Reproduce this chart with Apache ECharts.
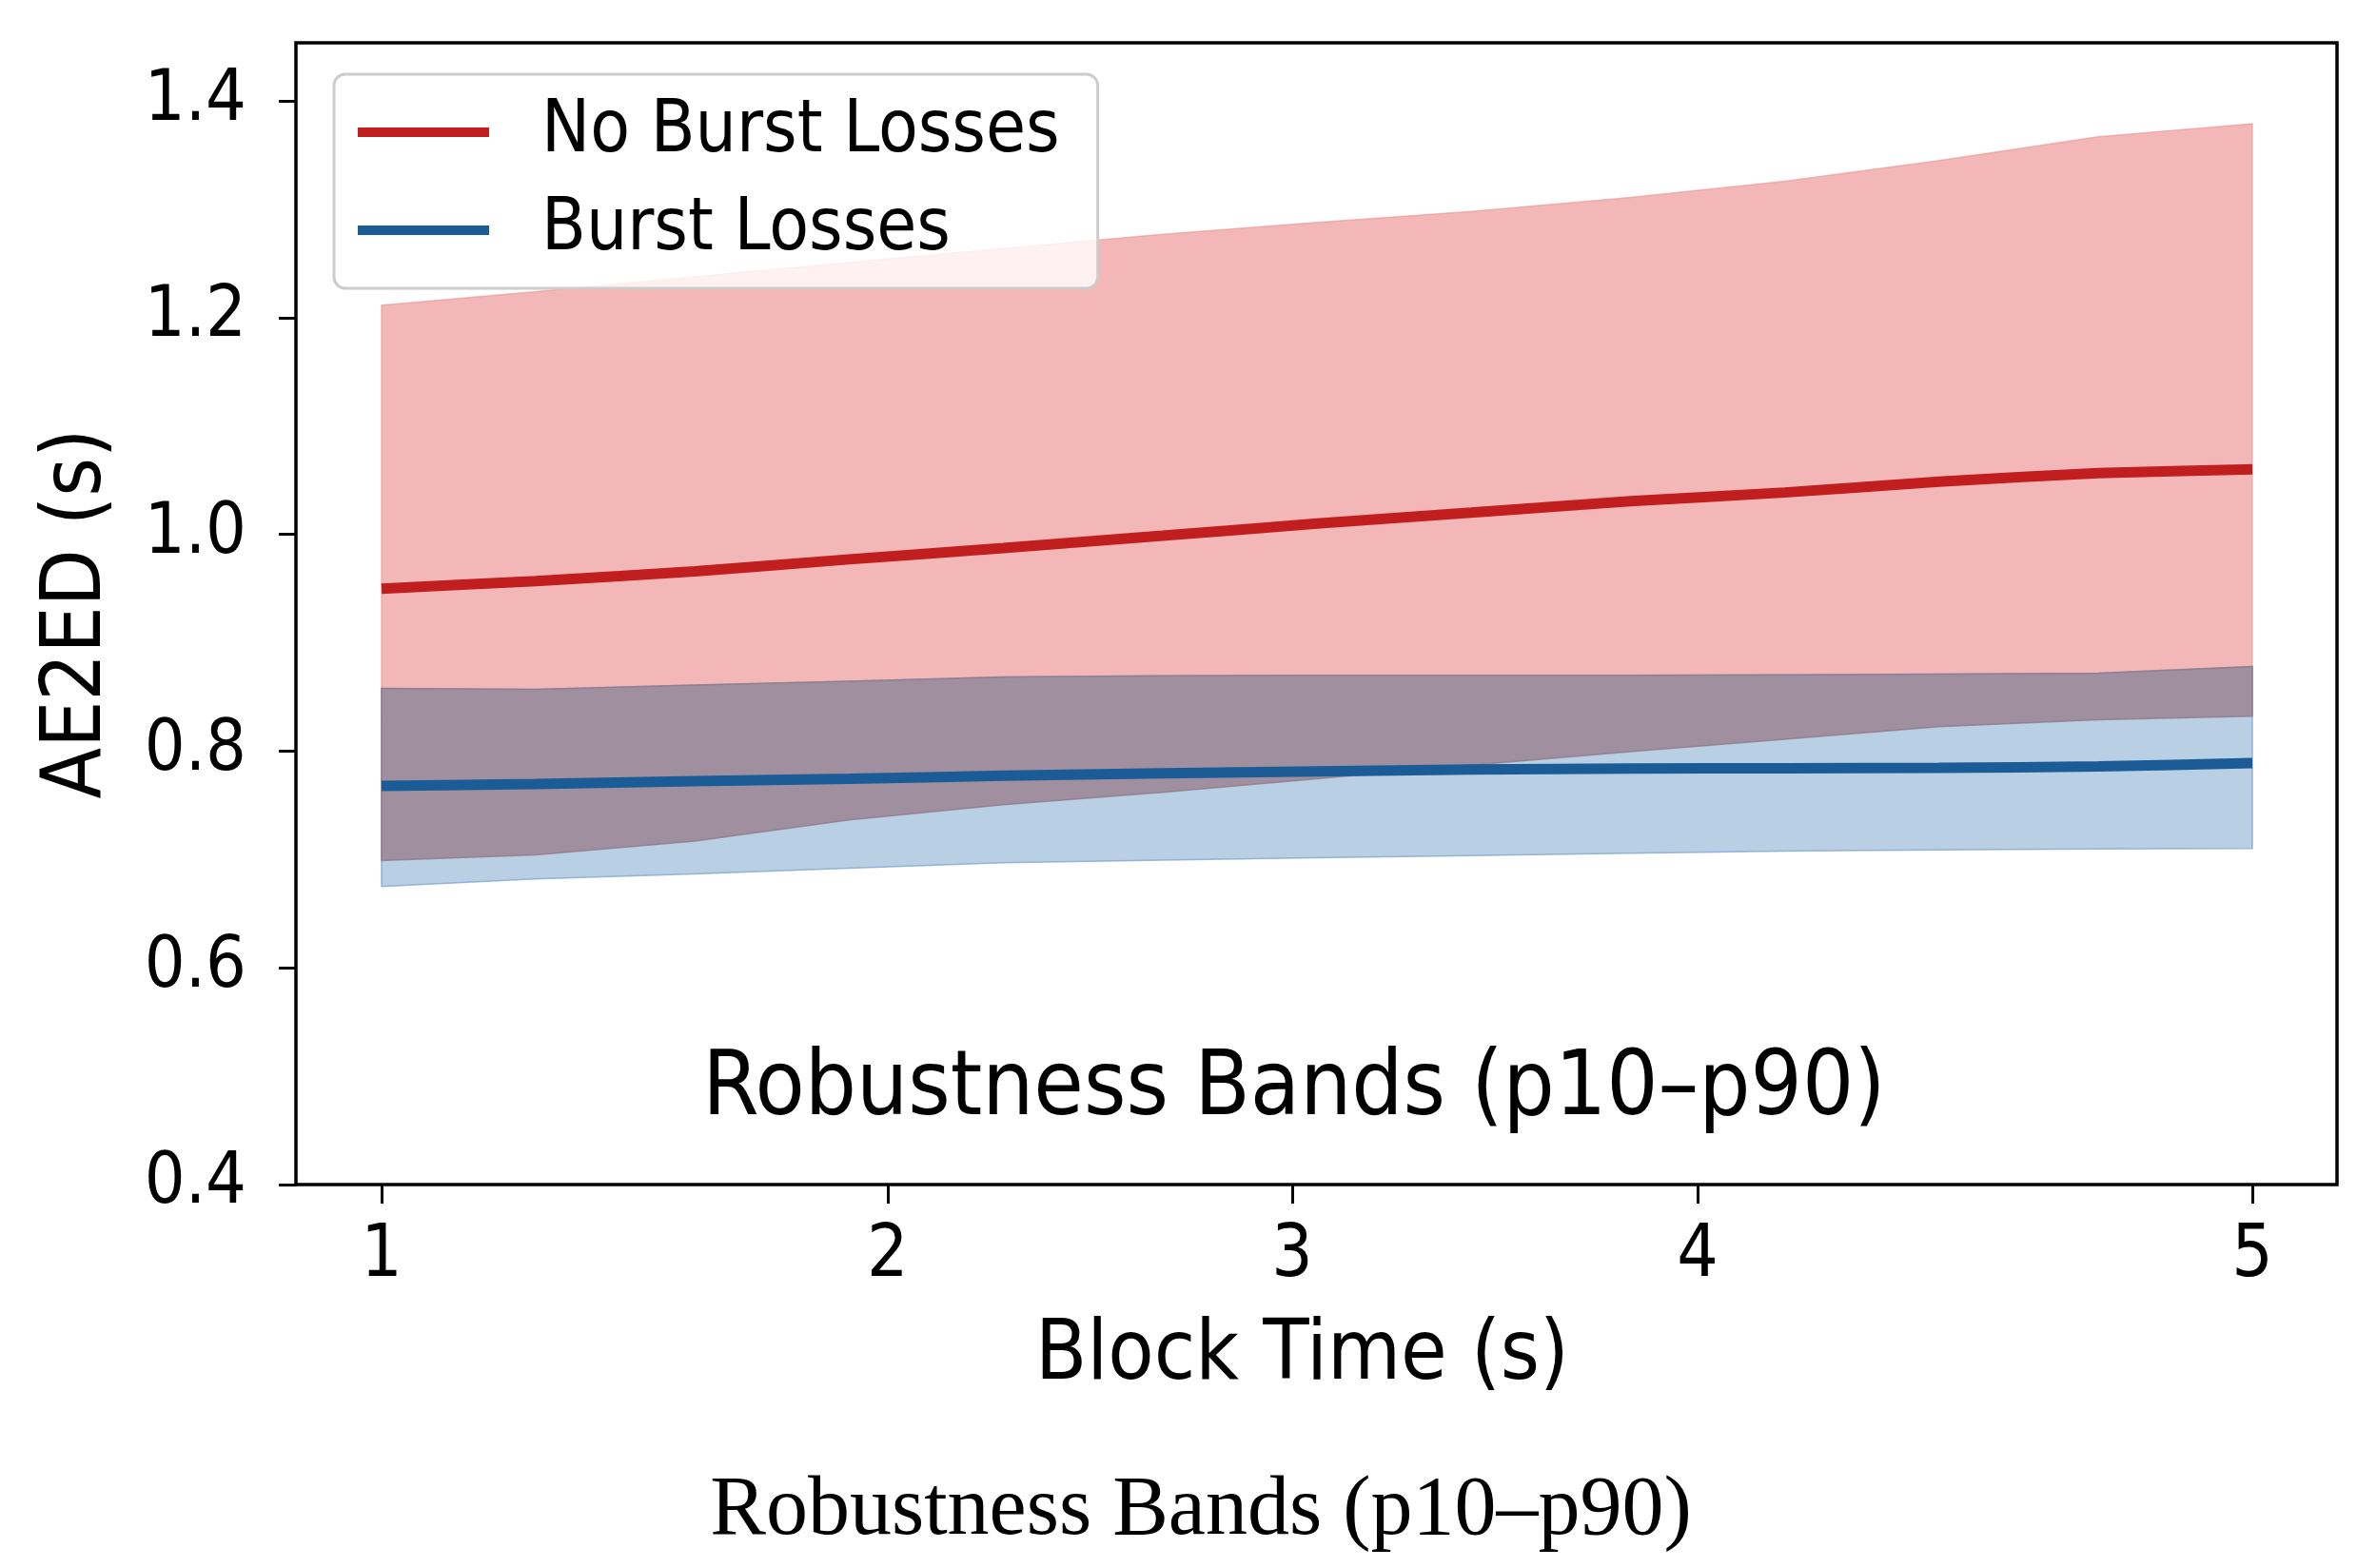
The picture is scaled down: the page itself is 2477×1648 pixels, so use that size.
<!DOCTYPE html>
<html>
<head>
<meta charset="utf-8">
<script src="https://cdn.jsdelivr.net/npm/echarts@6/dist/echarts.min.js"></script>
<style>
html,body{margin:0;padding:0;background:#fff;}
#chart{width:2477px;height:1648px;}
</style>
</head>
<body>
<div id="chart"></div>
<script>
// Positions along the drawn x axis (block time, as placed in the figure)
const xPos = [1.0, 1.33, 1.67, 2.0, 2.33, 2.67, 3.0, 3.33, 3.67, 4.0, 4.33, 4.67, 5.0];

// No Burst Losses: median, p10, p90
const noBurstMedian = [0.950, 0.957, 0.966, 0.977, 0.9875, 0.9988, 1.010, 1.0202, 1.0306, 1.0387, 1.0486, 1.0565, 1.0602];
const noBurstP10    = [0.699, 0.7042, 0.717, 0.7365, 0.7505, 0.762, 0.7745, 0.787, 0.7995, 0.811, 0.8225, 0.829, 0.8323];
const noBurstP90    = [1.2115, 1.224, 1.238, 1.251, 1.264, 1.277, 1.288, 1.298, 1.311, 1.326, 1.345, 1.367, 1.379];

// Burst Losses: median, p10, p90
const burstMedian = [0.768, 0.7697, 0.7724, 0.7744, 0.7773, 0.7795, 0.7813, 0.783, 0.7839, 0.7842, 0.7845, 0.7859, 0.789];
const burstP10    = [0.675, 0.682, 0.6868, 0.692, 0.697, 0.6995, 0.7016, 0.7035, 0.7058, 0.7078, 0.7088, 0.7098, 0.7102];
const burstP90    = [0.858, 0.857, 0.861, 0.8645, 0.8685, 0.8695, 0.870, 0.870, 0.870, 0.8705, 0.871, 0.872, 0.878];

// Tick labels
const xTickPos    = [1, 2.082, 2.947, 3.814, 5];
const xTickLabels = ['1', '2', '3', '4', '5'];
const yTicks      = [0.4, 0.6, 0.8, 1.0, 1.2, 1.4];
const yTickLabels = ['0.4', '0.6', '0.8', '1.0', '1.2', '1.4'];

const SANS = "'DejaVu Sans Condensed', 'DejaVu Sans', sans-serif";
const RED = '#c01e1f';
const BLUE = '#1b5c97';

// overlap region of the two bands
const overlapLow  = xPos.map((_, i) => Math.max(noBurstP10[i], burstP10[i]));
const overlapHigh = xPos.map((_, i) => Math.min(noBurstP90[i], burstP90[i]));

function bandSeries(name, lower, upper, fill, stroke) {
  return {
    type: 'custom',
    name: name,
    silent: true,
    data: [[xPos[0], lower[0]]],
    renderItem: function (params, api) {
      const pts = [];
      for (let i = 0; i < xPos.length; i++) pts.push(api.coord([xPos[i], upper[i]]));
      for (let i = xPos.length - 1; i >= 0; i--) pts.push(api.coord([xPos[i], lower[i]]));
      return {
        type: 'polygon',
        shape: { points: pts },
        style: { fill: fill, stroke: stroke, lineWidth: 1.5 }
      };
    },
    z: 1
  };
}

const chart = echarts.init(document.getElementById('chart'), null, { renderer: 'canvas' });

const option = {
  backgroundColor: '#ffffff',
  animation: false,
  title: [
    {
      text: 'Robustness Bands (p10\u2013p90)',
      left: 1355, top: 1094, textAlign: 'center',
      textStyle: { fontFamily: SANS, fontSize: 95, fontWeight: 'normal', color: '#000' }
    },
    {
      text: 'Robustness Bands (p10\u2013p90)',
      left: 1257, top: 1540, textAlign: 'center',
      textStyle: { fontFamily: "'Liberation Serif', 'Times New Roman', serif", fontSize: 88, fontWeight: 'normal', color: '#000' }
    }
  ],
  legend: {
    orient: 'vertical',
    left: 351, top: 78,
    padding: [23, 40, 23, 25],
    itemWidth: 138, itemHeight: 10,
    itemGap: 27,
    icon: 'rect',
    backgroundColor: 'rgba(255,255,255,0.8)',
    borderColor: '#cccccc', borderWidth: 3, borderRadius: 12,
    textStyle: { fontFamily: SANS, fontSize: 76, color: '#000', padding: [8, 0, 0, 50] },
    data: ['No Burst Losses', 'Burst Losses']
  },
  grid: {
    left: 311, right: 21, top: 45, bottom: 403,
    show: true, borderColor: '#000', borderWidth: 3.5, backgroundColor: 'transparent',
    containLabel: false
  },
  xAxis: {
    type: 'value', min: 0.817, max: 5.181,
    name: 'Block Time (s)', nameLocation: 'middle', nameGap: 137,
    nameTextStyle: { fontFamily: SANS, fontSize: 88, color: '#000', padding: [0, 30, 0, 0] },
    splitLine: { show: false },
    axisLine: { show: false },
    axisTick: { show: true, length: 20, lineStyle: { color: '#000', width: 3 }, customValues: xTickPos },
    axisLabel: {
      margin: 38, fontFamily: SANS, fontSize: 76, color: '#000',
      customValues: xTickPos,
      formatter: function (v) { const k = xTickPos.indexOf(v); return k >= 0 ? xTickLabels[k] : ''; }
    }
  },
  yAxis: {
    type: 'value', min: 0.4, max: 1.4537,
    name: 'AE2ED (s)', nameLocation: 'middle', nameGap: 185, nameRotate: 90,
    nameTextStyle: { fontFamily: SANS, fontSize: 87, color: '#000' },
    splitLine: { show: false },
    axisLine: { show: false },
    axisTick: { show: true, length: 18, lineStyle: { color: '#000', width: 3 }, customValues: yTicks },
    axisLabel: {
      margin: 52, fontFamily: SANS, fontSize: 75, color: '#000',
      customValues: yTicks,
      formatter: function (v) {
        const k = yTicks.findIndex(t => Math.abs(t - v) < 1e-9);
        return k >= 0 ? yTickLabels[k] : '';
      }
    }
  },
  series: [
    bandSeries('noBurstBand', noBurstP10, noBurstP90, '#f4b7b7', 'rgba(230,150,150,0.6)'),
    bandSeries('burstBand', burstP10, burstP90, '#b9cfe3', 'rgba(120,160,200,0.7)'),
    bandSeries('overlapBand', overlapLow, overlapHigh, '#a0909f', 'rgba(140,115,135,0.7)'),
    {
      type: 'line', name: 'No Burst Losses',
      data: xPos.map((x, i) => [x, noBurstMedian[i]]),
      showSymbol: false, symbol: 'none', smooth: 0.2,
      lineStyle: { color: RED, width: 11 }, itemStyle: { color: RED },
      z: 5
    },
    {
      type: 'line', name: 'Burst Losses',
      data: xPos.map((x, i) => [x, burstMedian[i]]),
      showSymbol: false, symbol: 'none', smooth: 0.2,
      lineStyle: { color: BLUE, width: 11 }, itemStyle: { color: BLUE },
      z: 5
    }
  ]
};

chart.setOption(option);
</script>
</body>
</html>
